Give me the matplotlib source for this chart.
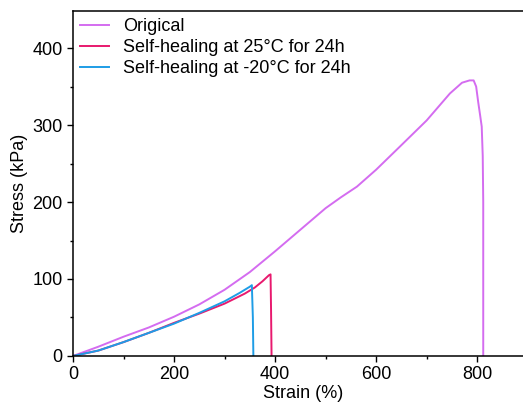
import matplotlib
matplotlib.use("Agg")
import matplotlib.pyplot as plt
from matplotlib.ticker import MultipleLocator

plt.rcParams["font.family"] = ["Liberation Sans", "DejaVu Sans"]
plt.rcParams["font.size"] = 13

# Stress-strain curves
strain_orig = [0, 25, 50, 100, 150, 200, 250, 300, 350, 400, 450, 500, 530, 562, 600,
               647, 700, 746, 770, 785, 793, 798, 802, 806, 809, 811, 812, 812]
stress_orig = [0, 6, 12, 25, 37, 51, 67, 86, 109, 136, 164, 192, 206, 220, 242,
               272, 306, 341, 355, 358, 358, 350, 330, 312, 298, 260, 200, 0]

strain_25 = [0, 50, 100, 150, 200, 250, 300, 340, 360, 375, 388, 391, 392, 393]
stress_25 = [0, 7, 18, 30, 43, 55, 68, 81, 89, 97, 105, 106, 60, 0]

strain_m20 = [0, 50, 100, 150, 200, 250, 300, 330, 350, 354, 356, 357]
stress_m20 = [0, 7, 18, 30, 42, 56, 71, 82, 90, 92, 50, 0]

labels = ["Origical", "Self-healing at 25\u00b0C for 24h", "Self-healing at -20\u00b0C for 24h"]
colors = ["#d46cf0", "#e8196e", "#1e9de6"]

fig = plt.figure(figsize=(5.23, 4.12), dpi=100)
ax = fig.add_axes([0.1396, 0.136, 0.88, 0.837])

ax.plot(strain_orig, stress_orig, color=colors[0], lw=1.4, label=labels[0])
ax.plot(strain_25, stress_25, color=colors[1], lw=1.4, label=labels[1])
ax.plot(strain_m20, stress_m20, color=colors[2], lw=1.4, label=labels[2])

ax.set_xlim(0, 911)
ax.set_ylim(0, 448)
ax.xaxis.set_major_locator(MultipleLocator(200))
ax.xaxis.set_minor_locator(MultipleLocator(100))
ax.yaxis.set_major_locator(MultipleLocator(100))
ax.yaxis.set_minor_locator(MultipleLocator(50))
ax.tick_params(which="major", direction="out", length=4, width=1)
ax.tick_params(which="minor", direction="out", length=2.5, width=1)
for s in ax.spines.values():
    s.set_linewidth(1.1)

ax.set_xlabel("Strain (%)", labelpad=1)
ax.set_ylabel("Stress (kPa)", labelpad=3)

ax.legend(loc="upper left", frameon=False, handlelength=1.6, handletextpad=0.75,
          labelspacing=0.22, borderaxespad=0.0, bbox_to_anchor=(0.0, 1.0))

fig.savefig("out.png", dpi=100)
